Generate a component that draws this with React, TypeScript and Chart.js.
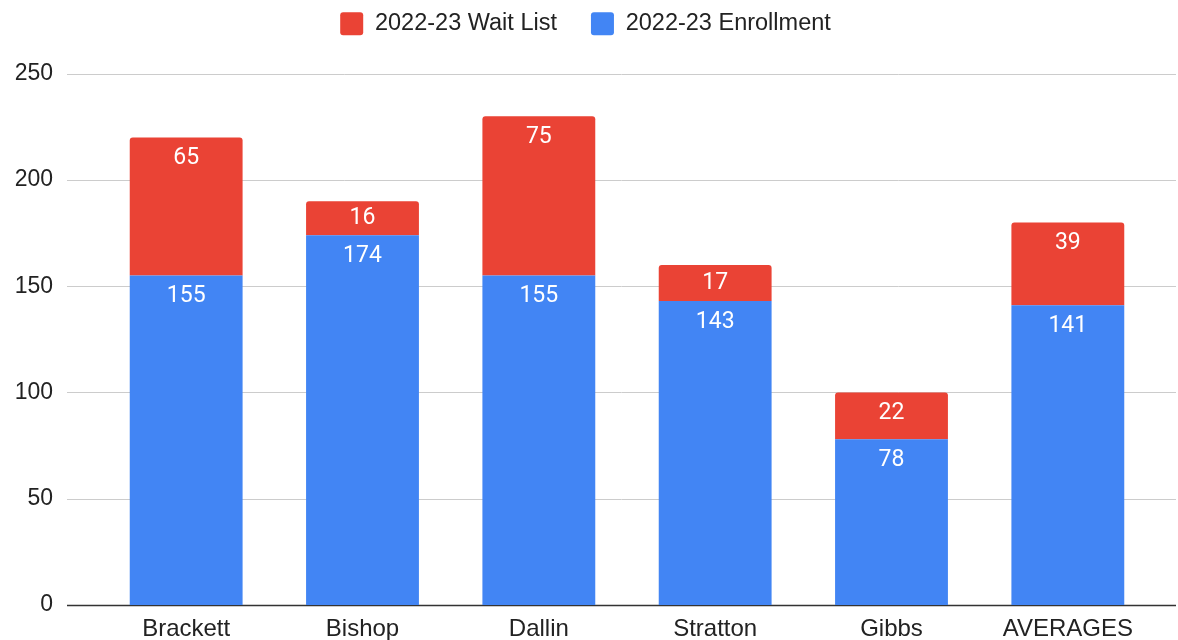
import React, { useEffect, useRef } from "react";
import { Chart, registerables } from "chart.js";

Chart.register(...registerables);

const categories = ["Brackett", "Bishop", "Dallin", "Stratton", "Gibbs", "AVERAGES"];
const enrollment = [155, 174, 155, 143, 78, 141];
const waitList = [65, 16, 75, 17, 22, 39];
const yTicks = [0, 50, 100, 150, 200, 250];

const BLUE = "#4285F4";
const RED = "#EA4335";
const FONT = "'Liberation Sans', Arial, sans-serif";

const gridPlugin = {
  id: "wideGrid",
  beforeDatasetsDraw(chart: any) {
    const { ctx, chartArea, scales } = chart;
    const y = scales.y;
    ctx.save();
    y.ticks.forEach((t: any) => {
      const py = Math.round(y.getPixelForValue(t.value)) + 0.5;
      ctx.beginPath();
      ctx.strokeStyle = t.value === 0 ? "#333333" : "#cccccc";
      ctx.lineWidth = t.value === 0 ? 1.5 : 1;
      ctx.moveTo(chartArea.left - 31, py);
      ctx.lineTo(chartArea.right + 20, py);
      ctx.stroke();
    });
    ctx.restore();
  },
};

const labelPlugin = {
  id: "barLabels",
  afterDatasetsDraw(chart: any) {
    const { ctx } = chart;
    ctx.save();
    ctx.fillStyle = "#ffffff";
    ctx.font = "400 23px Roboto";
    ctx.textAlign = "center";
    ctx.textBaseline = "middle";
    chart.data.datasets.forEach((ds: any, di: number) => {
      const meta = chart.getDatasetMeta(di);
      meta.data.forEach((el: any, i: number) => {
        const h = el.base - el.y;
        const off = Math.min(21, h / 2);
        ctx.fillText(String(ds.data[i]), el.x, el.y + off);
      });
    });
    ctx.restore();
  },
};

export default function App() {
  const ref = useRef<HTMLCanvasElement>(null);
  useEffect(() => {
    if (!ref.current) return;
    const chart = new Chart(ref.current, {
      type: "bar",
      data: {
        labels: categories,
        datasets: [
          {
            label: "2022-23 Enrollment",
            data: enrollment,
            backgroundColor: BLUE,
            borderWidth: 0,
          },
          {
            label: "2022-23 Wait List",
            data: waitList,
            backgroundColor: RED,
            borderWidth: 0,
            borderRadius: { topLeft: 3, topRight: 3, bottomLeft: 0, bottomRight: 0 },
            borderSkipped: false,
          },
        ],
      },
      options: {
        animation: false,
        responsive: false,
        maintainAspectRatio: false,
        layout: { padding: { left: 15, right: 22, top: -22, bottom: 0 } },
        datasets: { bar: { categoryPercentage: 1, barPercentage: 0.64 } } as any,
        plugins: {
          legend: {
            position: "top",
            reverse: true,
            labels: {
              boxWidth: 23,
              boxHeight: 23,
              useBorderRadius: true,
              borderRadius: 3,
              padding: 34,
              color: "#222222",
              font: { family: FONT, size: 23.5 },
            },
          },
          title: {
            display: true,
            text: " ",
            position: "top",
            weight: 500,
            font: { size: 1 },
            padding: { top: 0, bottom: 27 },
          } as any,
          tooltip: { enabled: false },
        },
        scales: {
          x: {
            stacked: true,
            grid: { display: false, drawTicks: false },
            border: { display: false },
            afterFit: (s: any) => {
              s.height = 35;
            },
            ticks: {
              color: "#222222",
              padding: 10,
              font: { family: FONT, size: 24 },
            },
          },
          y: {
            stacked: true,
            min: 0,
            max: 250,
            afterBuildTicks: (s: any) => {
              s.ticks = yTicks.map((v) => ({ value: v }));
            },
            afterFit: (s: any) => {
              s.width = 83;
              s.paddingTop = 14;
              s.paddingBottom = 14;
            },
            grid: { display: false, drawTicks: false },
            border: { display: false },
            ticks: {
              color: "#222222",
              padding: 45,
              font: { family: FONT, size: 23 },
            },
          },
        },
      },
      plugins: [gridPlugin, labelPlugin],
    });
    return () => chart.destroy();
  }, []);
  return (
    <div style={{ position: "fixed", left: 0, top: 0, width: 1178, height: 640, background: "#fff" }}>
      <canvas ref={ref} width={1178} height={640} style={{ display: "block", width: 1178, height: 640 }} />
    </div>
  );
}
